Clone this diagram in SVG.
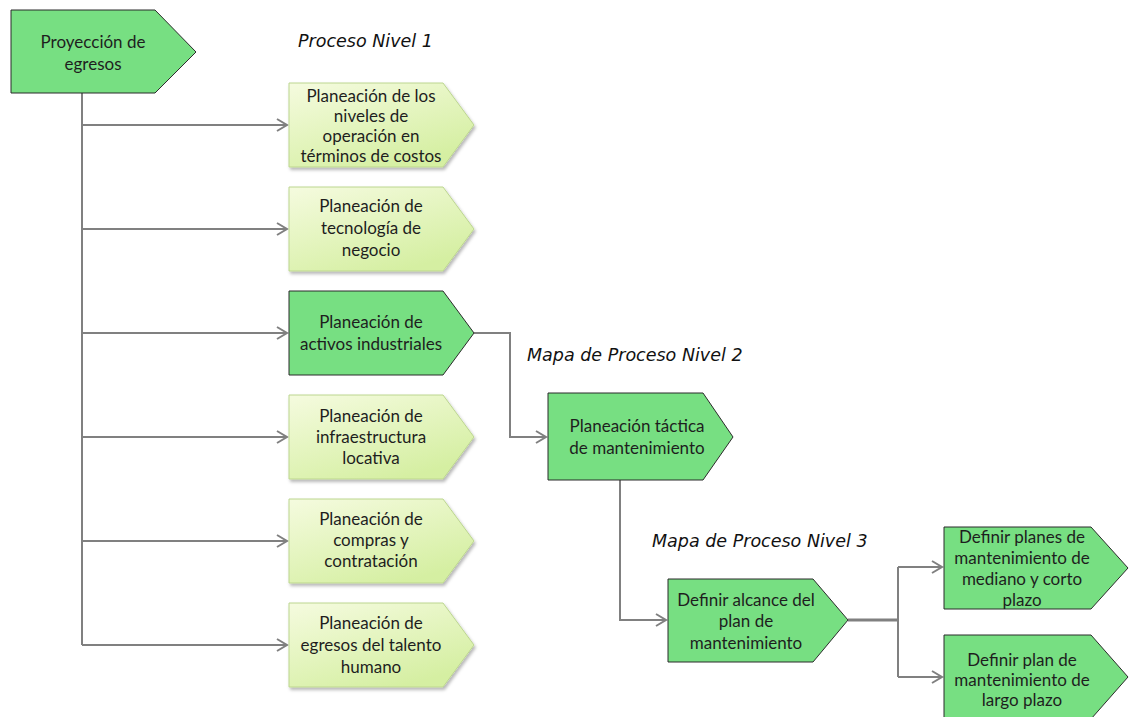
<svg xmlns="http://www.w3.org/2000/svg" width="1129" height="717" viewBox="0 0 1129 717">
  <style>
    .dark { fill: #77df82; stroke: #2b2b2b; stroke-width: 1; }
    .light { fill: url(#lightFill); stroke: #bcd68f; stroke-width: 1; filter: url(#shadow); }
    .lbl { font-family: Lato, "Open Sans", sans-serif; font-size: 17px; fill: #1e1e1e; text-anchor: middle; }
    .title { font-family: "DejaVu Sans", Verdana, sans-serif; font-style: italic; font-size: 17.5px; fill: #111; }
    .conn { fill: none; stroke: #808080; stroke-width: 2; }
    .arr { marker-end: url(#chev); }
  </style>
  <defs>
    <linearGradient id="lightFill" x1="0" y1="0" x2="0.6" y2="1">
      <stop offset="0" stop-color="#f5fbdf"/>
      <stop offset="1" stop-color="#d5efa2"/>
    </linearGradient>
    <filter id="shadow" x="-10%" y="-10%" width="125%" height="130%">
      <feDropShadow dx="1.5" dy="2.5" stdDeviation="1.5" flood-color="#000" flood-opacity="0.28"/>
    </filter>
    <marker id="chev" markerUnits="userSpaceOnUse" markerWidth="14" markerHeight="14" refX="11" refY="7" orient="auto">
      <path d="M1,1 L11,7 L1,13" fill="none" stroke="#808080" stroke-width="2"/>
    </marker>
  </defs>

  <rect width="1129" height="717" fill="#ffffff"/>

  <!-- section captions -->
  <text class="title" x="298" y="47">Proceso Nivel 1</text>
  <text class="title" x="527" y="361">Mapa de Proceso Nivel 2</text>
  <text class="title" x="652" y="547">Mapa de Proceso Nivel 3</text>

  <!-- connectors -->
  <g id="connectors">
    <path class="conn" d="M82,93 V645"/>
    <path class="conn arr" d="M82,125 H287"/>
    <path class="conn arr" d="M82,229 H287"/>
    <path class="conn arr" d="M82,333 H287"/>
    <path class="conn arr" d="M82,437 H287"/>
    <path class="conn arr" d="M82,541 H287"/>
    <path class="conn arr" d="M82,645 H287"/>
    <path class="conn arr" d="M474,333 H510 V437 H546"/>
    <path class="conn arr" d="M620,480 V620 H666"/>
    <path class="conn" d="M848,620 H898" style="stroke-width:3"/>
    <path class="conn" d="M898,567 V677"/>
    <path class="conn arr" d="M898,567 H942"/>
    <path class="conn arr" d="M898,677 H942"/>
  </g>

  <!-- root -->
  <g id="proyeccion-egresos">
    <path class="dark" d="M11,10 H155 L196,52 L155,93 H11 Z"/>
    <text class="lbl" x="93" y="48">Proyección de</text>
    <text class="lbl" x="93" y="70">egresos</text>
  </g>

  <!-- level 1 -->
  <g id="niveles-operacion">
    <path class="light" d="M289,83 H443 L474,125 L443,167 H289 Z"/>
    <text class="lbl" x="371" y="102">Planeación de los</text>
    <text class="lbl" x="371" y="122">niveles de</text>
    <text class="lbl" x="371" y="142">operación en</text>
    <text class="lbl" x="371" y="162">términos de costos</text>
  </g>
  <g id="tecnologia-negocio">
    <path class="light" d="M289,187 H443 L474,229 L443,271 H289 Z"/>
    <text class="lbl" x="371" y="212">Planeación de</text>
    <text class="lbl" x="371" y="234">tecnología de</text>
    <text class="lbl" x="371" y="256">negocio</text>
  </g>
  <g id="activos-industriales">
    <path class="dark" d="M289,291 H443 L474,333 L443,375 H289 Z"/>
    <text class="lbl" x="371" y="328">Planeación de</text>
    <text class="lbl" x="371" y="350">activos industriales</text>
  </g>
  <g id="infraestructura-locativa">
    <path class="light" d="M289,395 H443 L474,437 L443,479 H289 Z"/>
    <text class="lbl" x="371" y="422">Planeación de</text>
    <text class="lbl" x="371" y="443">infraestructura</text>
    <text class="lbl" x="371" y="464">locativa</text>
  </g>
  <g id="compras-contratacion">
    <path class="light" d="M289,499 H443 L474,541 L443,583 H289 Z"/>
    <text class="lbl" x="371" y="525">Planeación de</text>
    <text class="lbl" x="371" y="546">compras y</text>
    <text class="lbl" x="371" y="567">contratación</text>
  </g>
  <g id="talento-humano">
    <path class="light" d="M289,603 H443 L474,645 L443,687 H289 Z"/>
    <text class="lbl" x="371" y="629">Planeación de</text>
    <text class="lbl" x="371" y="651">egresos del talento</text>
    <text class="lbl" x="371" y="673">humano</text>
  </g>

  <!-- level 2 -->
  <g id="tactica-mantenimiento">
    <path class="dark" d="M548,393 H703 L733,437 L703,480 H548 Z"/>
    <text class="lbl" x="637" y="432">Planeación táctica</text>
    <text class="lbl" x="637" y="454">de mantenimiento</text>
  </g>

  <!-- level 3 -->
  <g id="alcance-plan">
    <path class="dark" d="M668,579 H813 L848,620 L813,662 H668 Z"/>
    <text class="lbl" x="746" y="606">Definir alcance del</text>
    <text class="lbl" x="746" y="627">plan de</text>
    <text class="lbl" x="746" y="649">mantenimiento</text>
  </g>
  <g id="mediano-corto-plazo">
    <path class="dark" d="M944,527 H1091 L1128,568 L1091,609 H944 Z"/>
    <text class="lbl" x="1022" y="543">Definir planes de</text>
    <text class="lbl" x="1022" y="564">mantenimiento de</text>
    <text class="lbl" x="1022" y="585">mediano y corto</text>
    <text class="lbl" x="1022" y="606">plazo</text>
  </g>
  <g id="largo-plazo">
    <path class="dark" d="M944,635 H1091 L1128,677 L1091,719 H944 Z"/>
    <text class="lbl" x="1022" y="666">Definir plan de</text>
    <text class="lbl" x="1022" y="686">mantenimiento de</text>
    <text class="lbl" x="1022" y="706">largo plazo</text>
  </g>
</svg>
